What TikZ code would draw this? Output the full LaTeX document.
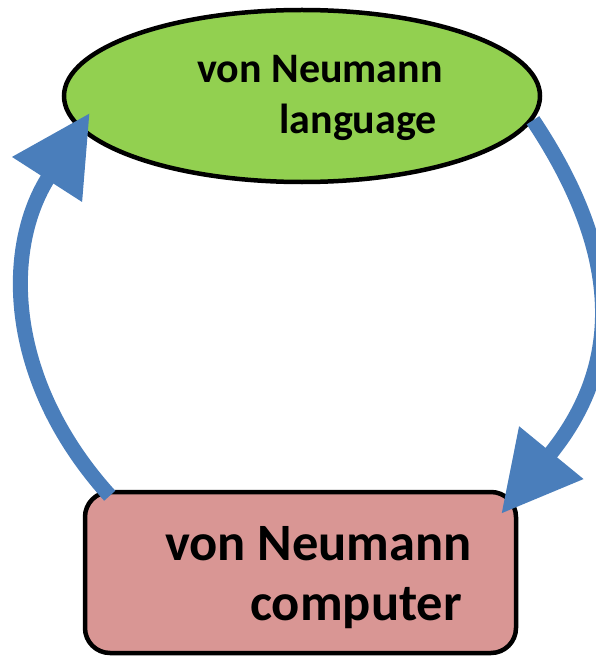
\documentclass[tikz,border=0pt]{standalone}
\usepackage{fontspec}
\setmainfont{Carlito}
\usetikzlibrary{arrows.meta,shapes.geometric}
\definecolor{lgreen}{HTML}{92D050}
\definecolor{lpink}{HTML}{D99694}
\definecolor{lblue}{HTML}{4A7EBB}
\begin{document}
\begin{tikzpicture}[x=1pt,y=-1pt,
  shapeline/.style={draw=black,line width=4.5pt},
  flow/.style={draw=lblue,line width=15pt,-{Triangle[width=79pt,length=79pt]}},
  lbl/.style={inner sep=0pt,align=right,anchor=east}]
\useasboundingbox (0,0) rectangle (596,658);
\clip (0,0) rectangle (596,658);
\node[shapeline,ellipse,fill=lgreen,minimum width=476pt,minimum height=172pt,inner sep=0pt] (ell) at (302,96) {};
\node[shapeline,rectangle,rounded corners=25pt,fill=lpink,minimum width=431pt,minimum height=161pt,inner sep=0pt] (box) at (300.5,572.5) {};
\node[lbl,font=\bfseries\fontsize{42}{51}\selectfont] (t1) at (443,98) {von Neumann\\language\hspace*{6pt}};
\node[lbl,font=\bfseries\fontsize{52.5}{60}\selectfont] (t2) at (472,578) {von Neumann\\computer\hspace*{10pt}};
\draw[flow] (ell.-6) .. controls (636,275) and (610,381) .. ([shift={(-17,24)}]box.north east);
\draw[flow] ([shift={(27,6)}]box.north west) .. controls (5,380) and (3,248) .. ([shift={(28,17)}]ell.west);
\end{tikzpicture}
\end{document}
